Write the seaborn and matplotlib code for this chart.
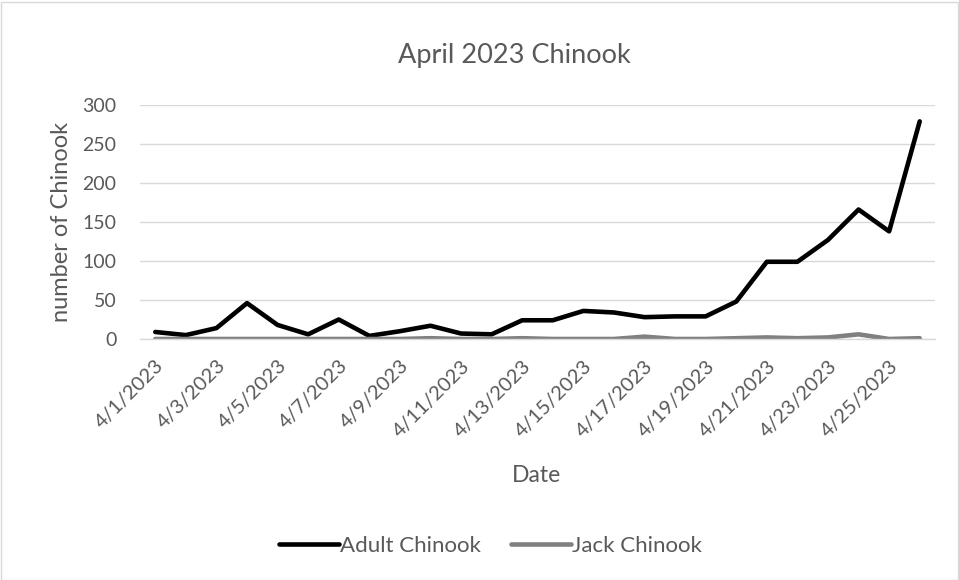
import matplotlib
matplotlib.use("Agg")
import matplotlib.pyplot as plt
import seaborn as sns
import pandas as pd
import numpy as np
from matplotlib.patches import Rectangle
from matplotlib.lines import Line2D

dates = [f"4/{d}/2023" for d in range(1, 27)]
adult = [9, 5, 14, 46, 18, 6, 25, 4, 10, 17, 7, 6, 24, 24, 36, 34, 28, 29, 29, 48, 99, 99, 127, 166, 138, 279]
jack = [0, 0, 0, 0, 0, 0, 0, 0, 0, 1, 0, 0, 1, 0, 0, 0, 3, 0, 0, 1, 2, 1, 2, 6, 0, 1]
series_names = ["Adult Chinook", "Jack Chinook"]
y_ticks = [0, 50, 100, 150, 200, 250, 300]

sns.set_theme(style="white")
plt.rcParams['font.family'] = ['Lato', 'DejaVu Sans']
txt = "#595959"

df = pd.DataFrame({
    "idx": list(range(len(dates))) * 2,
    "value": adult + jack,
    "series": [series_names[0]] * len(dates) + [series_names[1]] * len(dates),
})

fig = plt.figure(figsize=(9.59, 5.80), dpi=100)
ax = fig.add_axes([140/959, 1 - 339/580, 795/959, 234/580])
sns.lineplot(data=df, x="idx", y="value", hue="series",
             palette={series_names[0]: "#000000", series_names[1]: "#808080"},
             linewidth=3.3, ax=ax, legend=False)

ax.set_xlim(-0.5, len(dates) - 0.5)
ax.set_ylim(0, 300)
ax.set_yticks(y_ticks)
ax.set_yticklabels([str(v) for v in y_ticks], color=txt, fontsize=14)
ax.grid(axis="y", color="#d9d9d9", linewidth=1)
ax.set_axisbelow(True)
for s in ["left", "right", "top"]:
    ax.spines[s].set_visible(False)
ax.spines["bottom"].set_color("#d9d9d9")
ax.spines["bottom"].set_linewidth(1)

ax.set_xticks(list(range(0, len(dates), 2)))
ax.set_xticklabels(dates[::2], rotation=45, ha="right", rotation_mode="anchor",
                   color=txt, fontsize=14.5)
ax.set_xticks(np.arange(-0.5, len(dates), 2), minor=True)
ax.tick_params(axis="x", which="major", length=0, pad=13)
ax.tick_params(axis="x", which="minor", length=5, color="#d9d9d9", width=1)
ax.tick_params(axis="y", length=0, pad=17)
ax.set_xlabel("")
ax.set_ylabel("")

fig.text(514/959, 1 - 55/580, "April 2023 Chinook", ha="center", va="center",
         fontsize=19.5, color=txt)
fig.text(62/959, 1 - 222/580, "number of Chinook", ha="center", va="center",
         rotation=90, fontsize=17, color=txt)
fig.text(537/959, 1 - 476/580, "Date", ha="center", va="center",
         fontsize=16.5, color=txt)

handles = [Line2D([], [], color="#000000", lw=3.3),
           Line2D([], [], color="#808080", lw=3.3)]
fig.legend(handles, series_names, loc="center", bbox_to_anchor=(490/959, 1 - 546/580),
           ncol=2, frameon=False, handlelength=2.7, handletextpad=0.05,
           columnspacing=1.35, fontsize=16, labelcolor=txt)

fig.add_artist(Rectangle((0.5/959, 0.5/580), 957/959, 578/580, transform=fig.transFigure,
                         fill=False, edgecolor="#d9d9d9", linewidth=1))

fig.savefig("out.png", dpi=100)
